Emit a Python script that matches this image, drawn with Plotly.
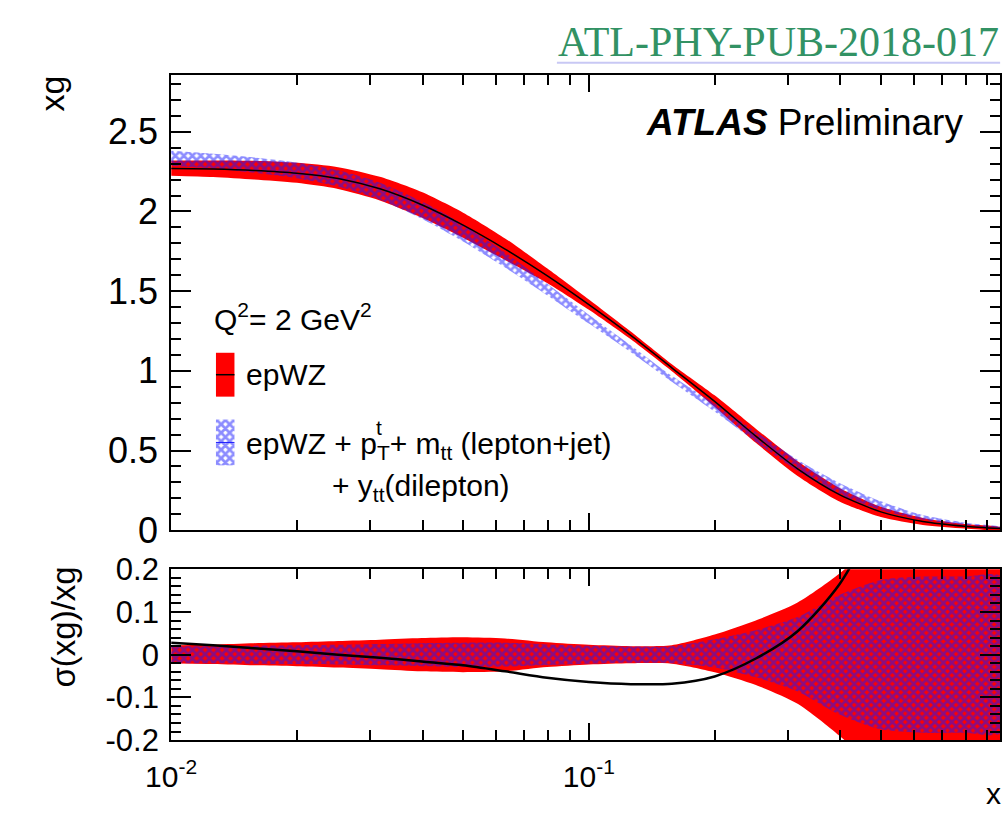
import plotly.graph_objects as go

# ---------------------------------------------------------------------------
# Gluon density xg at Q^2 = 2 GeV^2 : epWZ fit vs. epWZ + ttbar fit
# ---------------------------------------------------------------------------
x_grid = [0.01, 0.0126, 0.0158, 0.02, 0.0251, 0.0316, 0.0398, 0.05, 0.063, 0.0794,
          0.1, 0.126, 0.158, 0.2, 0.251, 0.316, 0.398, 0.5, 0.63, 0.794, 0.97]

# central xg, epWZ fit
xg_epwz = [2.270, 2.266, 2.257, 2.240, 2.207, 2.142, 2.042, 1.914, 1.764, 1.597,
           1.415, 1.222, 1.019, 0.808, 0.590, 0.385, 0.223, 0.115, 0.055, 0.025, 0.010]

# central xg, epWZ + pT(t) + m_tt (lepton+jet) + y_tt (dilepton) fit
xg_ttbar = [2.334, 2.316, 2.291, 2.258, 2.207, 2.127, 2.009, 1.866, 1.695, 1.511,
            1.324, 1.138, 0.950, 0.767, 0.585, 0.406, 0.260, 0.154, 0.080, 0.040, 0.018]

# relative uncertainties (upper / lower), epWZ fit
rel_epwz_up = [0.022, 0.024, 0.027, 0.029, 0.032, 0.035, 0.039, 0.041, 0.038, 0.029,
               0.023, 0.020, 0.022, 0.047, 0.080, 0.122, 0.190, 0.280, 0.400, 0.550, 0.700]
rel_epwz_dn = [0.020, 0.022, 0.025, 0.027, 0.030, 0.034, 0.039, 0.041, 0.039, 0.029,
               0.023, 0.020, 0.021, 0.041, 0.071, 0.115, 0.190, 0.280, 0.400, 0.550, 0.700]

# relative uncertainties (upper / lower), epWZ + ttbar fit
rel_tt_up = [0.020, 0.020, 0.021, 0.022, 0.023, 0.025, 0.027, 0.028, 0.028, 0.024,
             0.021, 0.019, 0.020, 0.036, 0.057, 0.088, 0.140, 0.175, 0.183, 0.183, 0.183]
rel_tt_dn = [0.020, 0.020, 0.021, 0.022, 0.023, 0.025, 0.027, 0.029, 0.028, 0.024,
             0.021, 0.019, 0.020, 0.030, 0.053, 0.086, 0.140, 0.175, 0.183, 0.183, 0.183]

# ratio curve shown in the lower panel
ratio_x = [0.01, 0.0126, 0.0158, 0.02, 0.0251, 0.0316, 0.0398, 0.05, 0.063, 0.0794,
           0.1, 0.126, 0.158, 0.2, 0.251, 0.316, 0.398, 0.5]
ratio_y = [0.028, 0.022, 0.015, 0.008, 0.000, -0.007, -0.016, -0.025, -0.039, -0.054,
           -0.064, -0.069, -0.068, -0.051, -0.009, 0.055, 0.165, 0.340]

y_ticks_top = [0, 0.5, 1, 1.5, 2, 2.5]
y_ticks_bot = [-0.2, -0.1, 0, 0.1, 0.2]
y_ticktext_bot = ["-0.2", "-0.1", "0", "0.1", "0.2"]
x_ticks = [0.01, 0.1]
x_ticktext = ["10<sup>-2</sup>", "10<sup>-1</sup>"]
x_minor = [0.02, 0.03, 0.04, 0.05, 0.06, 0.07, 0.08, 0.09,
           0.2, 0.3, 0.4, 0.5, 0.6, 0.7, 0.8, 0.9]

W, H = 1005, 824
FONT = "Liberation Sans, Arial, Helvetica, sans-serif"
RED = "rgb(255,0,0)"
BLUE = "rgb(25,25,255)"
HATCH = dict(shape="x", fgcolor=BLUE, bgcolor="rgba(0,0,0,0)", size=6, solidity=0.7)


def px(v):
    return v / W


def py(v):
    return 1 - v / H


def band(xs, lo, hi):
    return list(xs) + list(xs)[::-1], list(lo) + list(hi)[::-1]


fig = go.Figure()

# ---- upper panel: xg bands and central curve
lo = [c * (1 - d) for c, d in zip(xg_epwz, rel_epwz_dn)]
hi = [c * (1 + u) for c, u in zip(xg_epwz, rel_epwz_up)]
bx, by = band(x_grid, lo, hi)
fig.add_trace(go.Scatter(x=bx, y=by, fill="toself", fillcolor=RED, mode="lines",
                         line=dict(width=0, shape="spline", smoothing=0.7),
                         xaxis="x", yaxis="y", hoverinfo="skip"))

lo = [c * (1 - d) for c, d in zip(xg_ttbar, rel_tt_dn)]
hi = [c * (1 + u) for c, u in zip(xg_ttbar, rel_tt_up)]
bx, by = band(x_grid, lo, hi)
fig.add_trace(go.Scatter(x=bx, y=by, fill="toself", fillcolor="rgba(0,0,0,0)",
                         fillpattern=HATCH, mode="lines",
                         line=dict(width=0, shape="spline", smoothing=0.7),
                         xaxis="x", yaxis="y", hoverinfo="skip"))

fig.add_trace(go.Scatter(x=x_grid, y=xg_epwz, mode="lines",
                         line=dict(color="black", width=1.5, shape="spline", smoothing=0.7),
                         xaxis="x", yaxis="y", hoverinfo="skip"))

# ---- lower panel: relative uncertainties and ratio
bx, by = band(x_grid, [-d for d in rel_epwz_dn], rel_epwz_up)
fig.add_trace(go.Scatter(x=bx, y=by, fill="toself", fillcolor=RED, mode="lines",
                         line=dict(width=0, shape="spline", smoothing=0.7),
                         xaxis="x2", yaxis="y2", hoverinfo="skip"))
bx, by = band(x_grid, [-d for d in rel_tt_dn], rel_tt_up)
fig.add_trace(go.Scatter(x=bx, y=by, fill="toself", fillcolor="rgba(0,0,0,0)",
                         fillpattern=HATCH, mode="lines",
                         line=dict(width=0, shape="spline", smoothing=0.7),
                         xaxis="x2", yaxis="y2", hoverinfo="skip"))
fig.add_trace(go.Scatter(x=ratio_x, y=ratio_y, mode="lines",
                         line=dict(color="black", width=2.5, shape="spline", smoothing=0.8),
                         xaxis="x2", yaxis="y2", hoverinfo="skip"))

# ---- legend keys (pixel frame overlay)
fig.add_trace(go.Scatter(x=[195, 214, 214, 195], y=[352, 352, 398, 398], fill="toself",
                         fillcolor=RED, mode="lines", line=dict(width=0),
                         xaxis="x3", yaxis="y3", hoverinfo="skip"))
fig.add_trace(go.Scatter(x=[195, 214], y=[375, 375], mode="lines",
                         line=dict(color="black", width=1.5),
                         xaxis="x3", yaxis="y3", hoverinfo="skip"))
fig.add_trace(go.Scatter(x=[195, 214, 214, 195], y=[422, 422, 470, 470], fill="toself",
                         fillcolor="rgba(0,0,0,0)", fillpattern=HATCH, mode="lines",
                         line=dict(width=0), xaxis="x3", yaxis="y3", hoverinfo="skip"))
fig.add_trace(go.Scatter(x=[195, 214], y=[446, 446], mode="lines",
                         line=dict(color=BLUE, width=1),
                         xaxis="x3", yaxis="y3", hoverinfo="skip"))

xdom = [px(149), px(1000)]
xrange_log = [-2, -0.0155]
common_x = dict(type="log", range=xrange_log, domain=xdom, showline=True, linecolor="black",
                linewidth=2, mirror="ticks", ticks="inside", ticklen=17, tickwidth=2,
                tickcolor="black", tickvals=x_ticks, showgrid=False, zeroline=False,
                minor=dict(tickmode="array", tickvals=x_minor, ticks="inside", ticklen=10,
                           tickwidth=2, tickcolor="black", showgrid=False))
common_y = dict(showline=True, linecolor="black", linewidth=2, mirror="ticks",
                ticks="inside", ticklen=20, tickwidth=2, tickcolor="black",
                showgrid=False, zeroline=False)

fig.update_layout(
    width=W, height=H, autosize=False,
    margin=dict(l=0, r=0, t=0, b=0),
    paper_bgcolor="white", plot_bgcolor="rgba(0,0,0,0)",
    showlegend=False,
    font=dict(family=FONT, color="black"),
    xaxis=dict(**common_x, anchor="y", showticklabels=False),
    yaxis=dict(**common_y, domain=[py(538), py(61)], range=[0, 2.855],
               tickvals=y_ticks_top, ticklabelstandoff=4,
               tickfont=dict(size=36, family=FONT),
               minor=dict(dtick=0.1, ticks="inside", ticklen=10, tickwidth=2,
                          tickcolor="black", showgrid=False)),
    xaxis2=dict(**common_x, anchor="y2", ticktext=x_ticktext, ticklabelstandoff=9,
                tickfont=dict(size=30, family=FONT)),
    yaxis2=dict(**common_y, domain=[py(758), py(579)], range=[-0.2, 0.2],
                tickvals=y_ticks_bot, ticktext=y_ticktext_bot, ticklabelstandoff=4,
                tickfont=dict(size=31, family=FONT),
                minor=dict(dtick=0.02, ticks="inside", ticklen=10, tickwidth=2,
                           tickcolor="black", showgrid=False)),
    xaxis3=dict(domain=[0, 1], range=[0, W], visible=False, anchor="y3", fixedrange=True),
    yaxis3=dict(domain=[0, 1], range=[H, 0], visible=False, anchor="x3", fixedrange=True),
)

ann = [
    dict(text="ATL-PHY-PUB-2018-017", x=px(1001), y=py(26), xanchor="right", yanchor="middle",
         font=dict(family="Liberation Serif, Times New Roman, serif", size=42,
                   color="rgb(50,146,100)")),
    dict(text="<b><i>ATLAS</i></b> Preliminary", x=px(964), y=py(111), xanchor="right",
         yanchor="middle", font=dict(size=37)),
    dict(text="xg", x=px(27), y=py(80), textangle=-90, xanchor="center", yanchor="middle",
         font=dict(size=34)),
    dict(text="σ(xg)/xg", x=px(39), y=py(639), textangle=-90, xanchor="center",
         yanchor="middle", font=dict(size=33)),
    dict(text="x", x=px(993), y=py(814), xanchor="center", yanchor="middle",
         font=dict(size=30)),
    dict(text="Q<sup>2</sup>= 2 GeV<sup>2</sup>", x=px(191), y=py(315), xanchor="left",
         yanchor="middle", font=dict(size=30)),
    dict(text="epWZ", x=px(224), y=py(375), xanchor="left", yanchor="middle",
         font=dict(size=30)),
    dict(text="epWZ + p<sub>T</sub>+ m<sub>tt</sub> (lepton+jet)", x=px(224), y=py(449),
         xanchor="left", yanchor="middle", font=dict(size=30)),
    dict(text="t", x=px(357), y=py(430), xanchor="left", yanchor="middle",
         font=dict(size=21)),
    dict(text="+ y<sub>tt</sub>(dilepton)", x=px(312), y=py(493), xanchor="left",
         yanchor="middle", font=dict(size=30)),
]
for a in ann:
    a.update(xref="paper", yref="paper", showarrow=False)
    a["font"].setdefault("family", FONT)
    a["font"].setdefault("color", "black")
fig.update_layout(annotations=ann)

fig.add_shape(type="line", xref="paper", yref="paper", x0=px(545), x1=px(1000),
              y0=py(48), y1=py(48), line=dict(color="rgb(200,200,244)", width=2))

fig.write_html("out.html")
